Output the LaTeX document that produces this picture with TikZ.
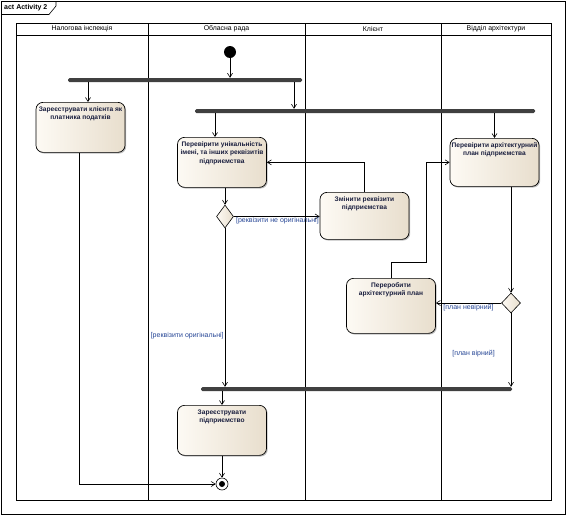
\documentclass[tikz,border=0pt]{standalone}
\usepackage{fontspec}
\setmainfont{Liberation Sans}
\usepackage{xcolor}
\usepackage{tikz}
\usetikzlibrary{arrows.meta,positioning,shapes.geometric,shadows}
\definecolor{begeclaro}{RGB}{253,250,244}
\definecolor{begeescuro}{RGB}{232,222,205}
\definecolor{cinzabarra}{RGB}{64,64,64}
\definecolor{azultexto}{RGB}{25,30,62}
\definecolor{azulrotulo}{RGB}{38,70,150}
\newcommand{\linhas}[1]{\begin{tabular}[t]{@{}c@{}}#1\end{tabular}}
\tikzset{
  accao/.style={rectangle,rounded corners=7pt,draw=black,line width=0.7pt,
    left color=begeclaro,right color=begeescuro,
    drop shadow={shadow xshift=1.2pt,shadow yshift=-1.2pt,fill=black!50},
    minimum width=89pt,inner xsep=1pt,inner ysep=4pt,
    text height=5pt,text depth=#1,text=azultexto,
    font=\fontsize{6.6}{8.5}\selectfont\bfseries},
  decisao/.style={diamond,draw=black,line width=0.6pt,
    left color=begeclaro,right color=begeescuro,inner sep=0pt},
  barra/.style={rectangle,fill=cinzabarra,rounded corners=1.5pt,
    minimum height=4pt,inner sep=0pt},
  seta/.style={-{Straight Barb[length=4pt,width=5pt]},line width=0.6pt},
  raia/.style={font=\fontsize{6.9}{8}\selectfont},
  rotulo/.style={font=\fontsize{7}{8}\selectfont,text=azulrotulo,inner sep=1pt}
}
\begin{document}
\begin{tikzpicture}[x=1pt,y=-1pt,linha/.style={line width=0.6pt}]
\useasboundingbox[fill=white] (0,0) rectangle (568,517);
% moldura
\draw[linha] (1.5,1.5) rectangle (565.5,514.5);
\draw[linha] (1.5,14.5) -- (49,14.5) -- (56,6) -- (56,1.5);
\node[anchor=west,inner sep=1pt,font=\fontsize{7}{8}\selectfont\bfseries] (titulo) at (3,8) {act Activity 2};
% raias
\draw[linha] (16,23) rectangle (551,500);
\draw[linha] (16,35) -- (551,35);
\foreach \x in {148,305,441} \draw[linha] (\x,23) -- (\x,500);
\node[raia] (raia1) at (82,29) {Налогова інспекція};
\node[raia] (raia2) at (226.5,29) {Обласна рада};
\node[raia] (raia3) at (373,29) {Клієнт};
\node[raia] (raia4) at (496,29) {Відділ архітектури};

\node[circle,fill=black,minimum size=12pt,inner sep=0pt] (inicio) at (230,52) {};
\node[barra,minimum width=234pt] (barra1) at (185,80) {};
\node[barra,minimum width=340pt] (barra2) at (365,111) {};
\node[barra,minimum width=311pt] (barra3) at (356.5,389) {};

\node[accao=37pt,anchor=north] (regcliente) at (80.5,102) {\linhas{Зареєструвати клієнта як\\платника податків}};
\node[accao=37pt,anchor=north] (unicidade) at (222,137) {\linhas{Перевірити унікальність\\імені, та інших реквізитів\\підприємства}};
\node[accao=35pt,anchor=north] (planoarq) at (494.5,138) {\linhas{Перевірити архітектурний\\план підприємства}};
\node[accao=34pt,anchor=north] (alterar) at (364.5,192) {\linhas{Змінити реквізити\\підприємства}};
\node[accao=42pt,anchor=north] (refazer) at (391,278) {\linhas{Переробити\\архітектурний план}};
\node[accao=37pt,anchor=north] (regempresa) at (222,405) {\linhas{Зареєструвати\\підприємство}};

\node[decisao,minimum width=17pt,minimum height=23pt] (dec1) at (225,216.5) {};
\node[decisao,minimum width=19pt,minimum height=20pt] (dec2) at (511,303) {};
\node[circle,draw,linha,minimum size=12pt,inner sep=0pt,
  path picture={\fill[black] (path picture bounding box.center) circle (3pt);}] (fim) at (222,484) {};

\draw[seta] (inicio) -- (inicio |- barra1.north);
\draw[seta] ([xshift=7.5pt]regcliente.north |- barra1.south) -- ([xshift=7.5pt]regcliente.north);
\draw[seta] ([xshift=109pt]barra1.south) -- ([xshift=109pt]barra1.south |- barra2.north);
\draw[seta] ([xshift=-7pt]unicidade.north |- barra2.south) -- ([xshift=-7pt]unicidade.north);
\draw[seta] (planoarq.north |- barra2.south) -- (planoarq.north);
\draw[seta] (dec1.north |- unicidade.south) -- (dec1.north);
\draw[seta] (dec1.east) -- node[rotulo,anchor=north west,pos=0,xshift=1pt] {[реквізити не оригінальні]} (dec1.east -| alterar.west);
\draw[seta] (alterar.north) |- (unicidade.east);
\draw[seta] (dec1.south) -- node[rotulo,anchor=east,pos=0.68] {[реквізити оригінальні]} (dec1.south |- barra3.north);
\draw[seta] (dec2.north |- planoarq.south) -- (dec2.north);
\draw[seta] (dec2.west) -- node[rotulo,below,pos=0.5] {[план невірний]} (dec2.west -| refazer.east);
\draw[seta] (refazer.north) |- ++(35,-16) |- (planoarq.west);
\draw[seta] (dec2.south) -- node[rotulo,left=15pt,pos=0.55] {[план вірний]} (dec2.south |- barra3.north);
\draw[seta] (regempresa.north |- barra3.south) -- (regempresa.north);
\draw[seta] (regempresa.south) -- (fim.north);
\draw[seta] ([xshift=-1.5pt]regcliente.south) |- (fim.west);
\end{tikzpicture}
\end{document}
